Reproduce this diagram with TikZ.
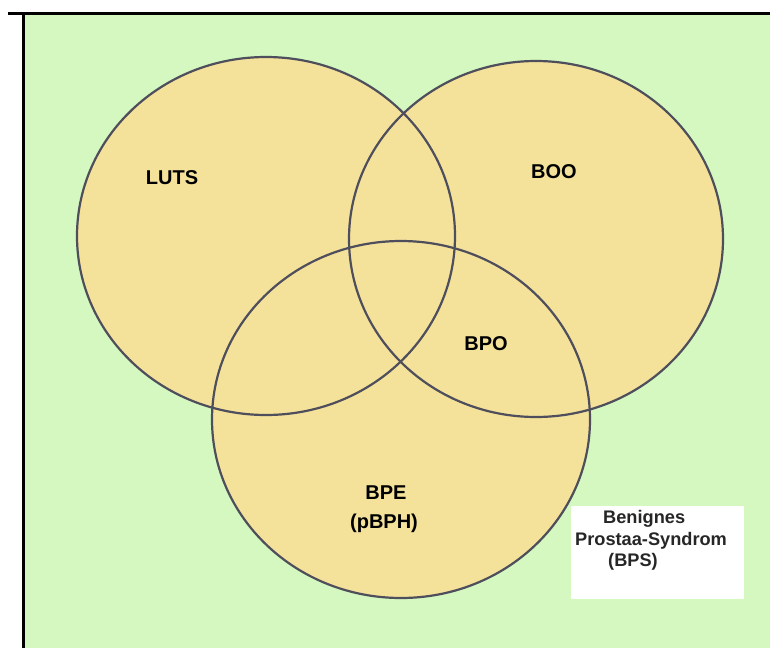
\documentclass[tikz,border=0pt]{standalone}
\usepackage{fontspec}
\setmainfont{Liberation Sans}
\definecolor{bggreen}{RGB}{212,248,192}
\definecolor{setfill}{RGB}{245,226,154}
\definecolor{setline}{RGB}{78,78,92}
\begin{document}
\begin{tikzpicture}[x=1pt,y=-1pt,
  setcircle/.style={draw=setline,line width=2.2pt},
  biglabel/.style={inner sep=0pt,anchor=base,font=\fontsize{20}{24}\selectfont\bfseries,text=black},
  boxlabel/.style={inner sep=0pt,anchor=base west,font=\fontsize{18.2}{21}\selectfont\bfseries,text=black!85}]
\useasboundingbox (0,0) rectangle (770,648);
\fill[white] (0,0) rectangle (770,648);
\fill[bggreen] (23.5,13.5) rectangle (770,648);
\draw[black,line width=3pt] (8,13) -- (770,13);
\draw[black,line width=3pt] (23,13) -- (23,648);
% fills
\fill[setfill] (266,236) ellipse [x radius=189,y radius=179];
\fill[setfill] (536,239) ellipse [x radius=187,y radius=178];
\fill[setfill] (401,419.5) ellipse [x radius=189,y radius=178.5];
% outlines
\draw[setcircle] (266,236) ellipse [x radius=189,y radius=179];
\draw[setcircle] (536,239) ellipse [x radius=187,y radius=178];
\draw[setcircle] (401,419.5) ellipse [x radius=189,y radius=178.5];
% labels
\node[biglabel] (luts) at (172,184) {LUTS};
\node[biglabel] (boo) at (554,178) {BOO};
\node[biglabel] (bpo) at (486,350) {BPO};
\node[biglabel] (bpe) at (386,499) {BPE};
\node[biglabel] (pbph) at (384,528) {(pBPH)};
% BPS box
\fill[white] (571,506) rectangle (744,599);
\node[boxlabel] (b1) at (603,523) {Benignes};
\node[boxlabel] (b2) at (575,545) {Prostaa-Syndrom};
\node[boxlabel] (b3) at (608,566) {(BPS)};
\end{tikzpicture}
\end{document}
